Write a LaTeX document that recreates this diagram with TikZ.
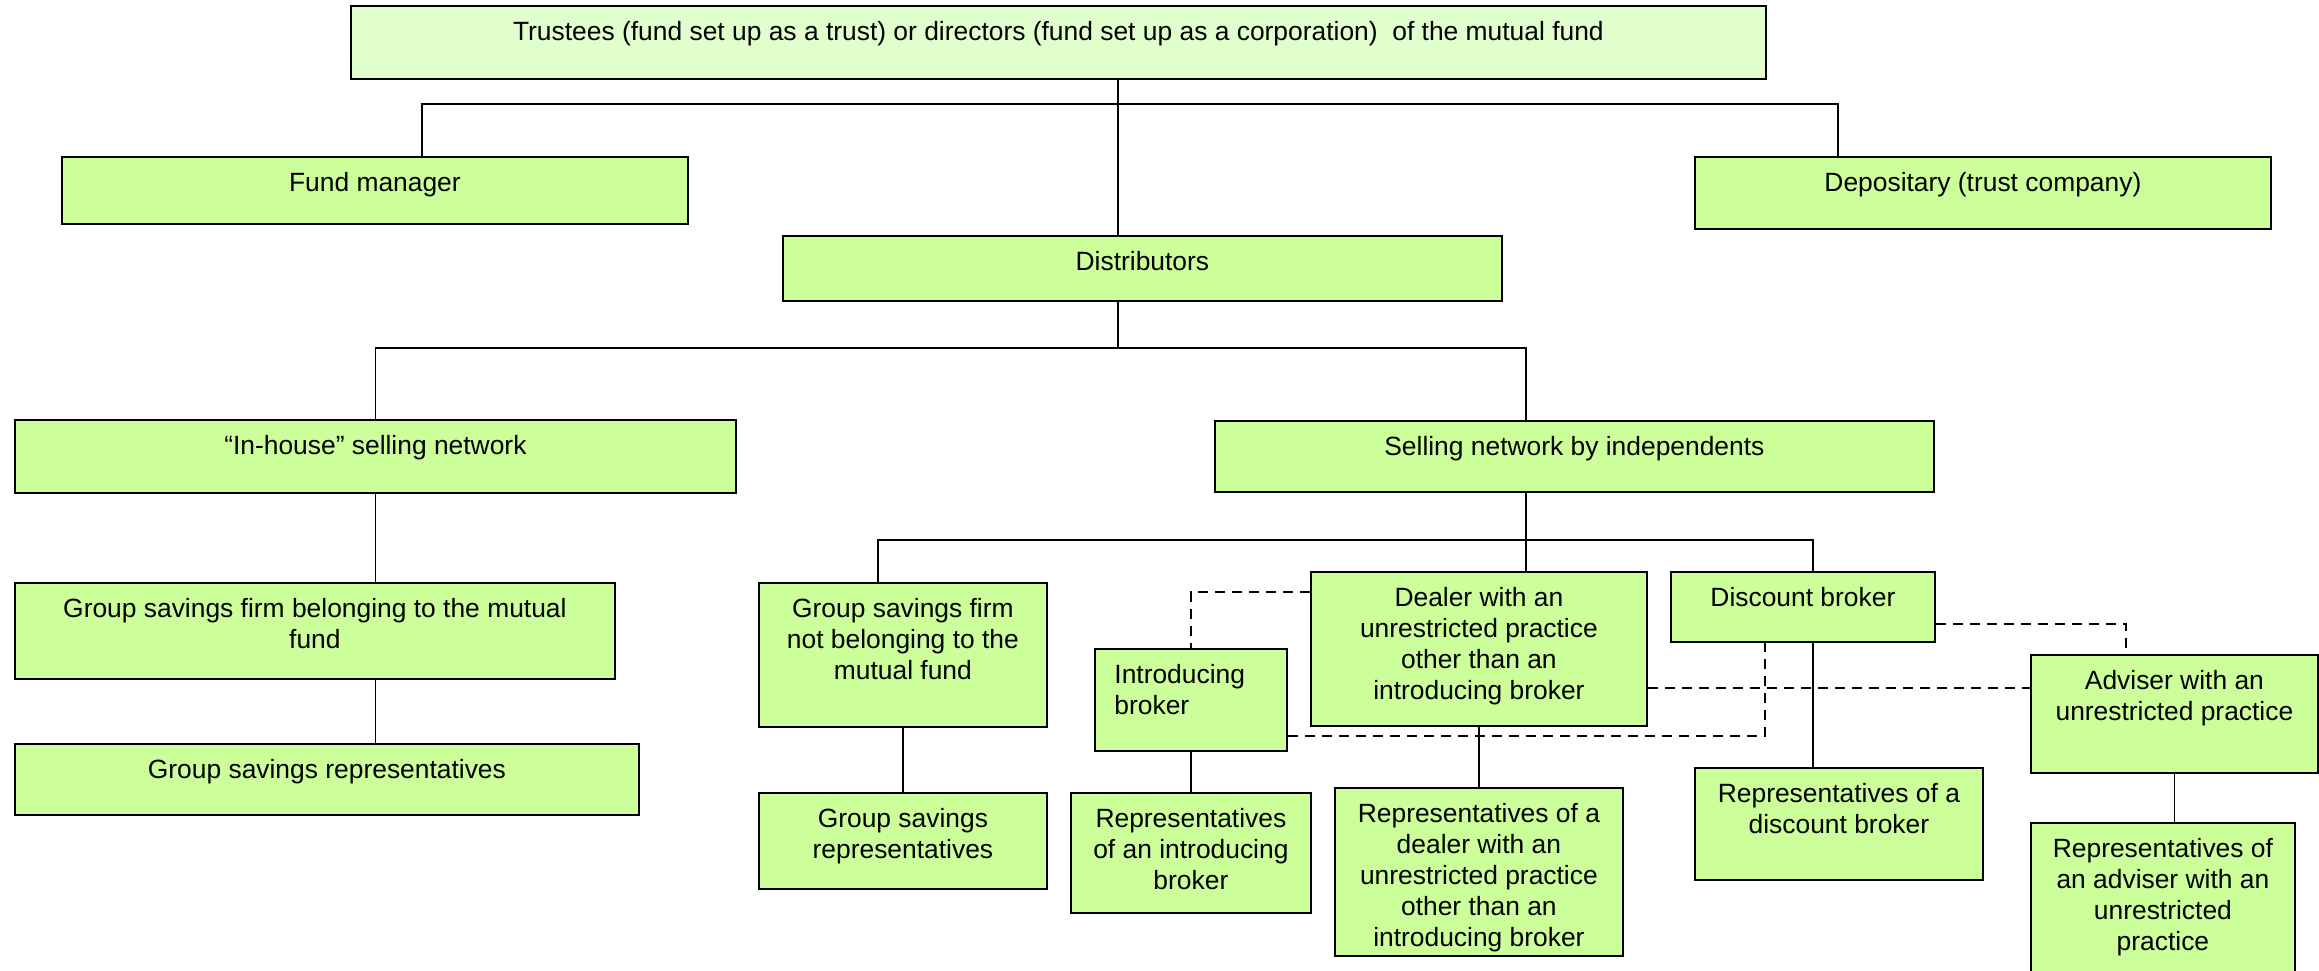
\documentclass[tikz,border=0pt]{standalone}
\usepackage{fontspec}
\setmainfont{Liberation Sans}
\begin{document}
\begin{tikzpicture}[x=0.5pt,y=-0.5pt,
  box/.style={draw=drawColor,fill=fillColor,line width=0.9pt,anchor=north west,inner sep=0pt},
  wh/.style 2 args={minimum width=#1*0.5pt,minimum height=#2*0.5pt},
  lbl/.style={anchor=north,yshift=-8pt,inner sep=0pt,align=center,text=drawColor,
    font=\fontsize{13.2}{15.5}\selectfont},
  link/.style={draw=drawColor,line width=0.75pt},
  dlink/.style={draw=drawColor,line width=0.75pt,dash pattern=on 5pt off 3.5pt}]
\definecolor{drawColor}{RGB}{0,0,0}
\definecolor{fillColor}{RGB}{204,255,153}
\definecolor{topColor}{RGB}{225,255,204}
\path[use as bounding box] (0,0) rectangle (2319,970);

% boxes
\node[box,fill=topColor,wh={1415}{73},label={[lbl]north:{Trustees (fund set up as a trust) or directors (fund set up as a corporation)\ \ of the mutual fund}}] (trustees) at (350,5) {};
\node[box,wh={626}{67},label={[lbl]north:{Fund manager}}] (fm) at (61,156) {};
\node[box,wh={576}{72},label={[lbl]north:{Depositary (trust company)}}] (dep) at (1694,156) {};
\node[box,wh={719}{65},label={[lbl]north:{Distributors}}] (dist) at (782,235) {};
\node[box,wh={721}{73},label={[lbl]north:{“In-house” selling network}}] (inh) at (14,419) {};
\node[box,wh={719}{71},label={[lbl]north:{Selling network by independents}}] (indep) at (1214,420) {};
\node[box,wh={600}{96},label={[lbl]north:{Group savings firm belonging to the mutual\\fund}}] (gsb) at (14,582) {};
\node[box,wh={624}{71},label={[lbl]north:{Group savings representatives}}] (gsr1) at (14,743) {};
\node[box,wh={288}{144},label={[lbl]north:{Group savings firm\\not belonging to the\\mutual fund}}] (gsn) at (758,582) {};
\node[box,wh={192}{102},label={[lbl,anchor=north west,xshift=10pt,align=left]north west:{Introducing\\broker}}] (intro) at (1094,648) {};
\node[box,wh={336}{154},label={[lbl]north:{Dealer with an\\unrestricted practice\\other than an\\introducing broker}}] (dealer) at (1310,571) {};
\node[box,wh={264}{70},label={[lbl]north:{Discount broker}}] (disc) at (1670,571) {};
\node[box,wh={287}{118},label={[lbl]north:{Adviser with an\\unrestricted practice}}] (adv) at (2030,654) {};
\node[box,wh={288}{96},label={[lbl]north:{Group savings\\representatives}}] (gsr2) at (758,792) {};
\node[box,wh={240}{120},label={[lbl]north:{Representatives\\of an introducing\\broker}}] (rintro) at (1070,792) {};
\node[box,wh={288}{168},label={[lbl]north:{Representatives of a\\dealer with an\\unrestricted practice\\other than an\\introducing broker}}] (rdealer) at (1334,787) {};
\node[box,wh={288}{112},label={[lbl]north:{Representatives of a\\discount broker}}] (rdisc) at (1694,767) {};
\node[box,wh={264}{170},label={[lbl]north:{Representatives of\\an adviser with an\\unrestricted\\practice}}] (radv) at (2030,822) {};

% junctions
\coordinate (busA) at (1118,104);
\coordinate (fmX) at (422,104);
\coordinate (depX) at (1838,104);
\coordinate (busB) at (1118,348);
\coordinate (indepX) at (1526,348);
\coordinate (busC) at (1526,540);
\coordinate (gsnX) at (878,540);
\coordinate (discX) at (1813,540);
\coordinate (dA) at (1190,592);
\coordinate (dB) at (1765,736);
\coordinate (dC) at (2030,688);
\coordinate (dD) at (2126,624);

% solid connectors
\path[link] (trustees.south -| busA) -- (dist.north -| busA);
\path[link] (fmX |- fm.north) -- (fmX) -- (depX) -- (depX |- dep.north);
\path[link] (dist.south -| busB) -- (busB);
\path[link] (inh.north) |- (busB) -| (indepX |- indep.north);
\path[link] (inh.south) -- (inh.south |- gsb.north);
\path[link] (inh.south |- gsb.south) -- (inh.south |- gsr1.north);
\path[link] (indep.south -| busC) -- (dealer.north -| busC);
\path[link] (gsnX |- gsn.north) -- (gsnX) -- (discX) -- (discX |- disc.north);
\path[link] (gsn.south) -- (gsr2.north);
\path[link] (intro.south) -- (rintro.north);
\path[link] (dealer.south) -- (rdealer.north);
\path[link] (disc.south -| discX) -- (rdisc.north -| discX);
\path[link] (adv.south) -- (adv.south |- radv.north);

% dashed connectors
\path[dlink] (dealer.west |- dA) -| (intro.north);
\path[dlink] (intro.east |- dB) -| (dB |- disc.south);
\path[dlink] (dealer.east |- dC) -- (adv.west |- dC);
\path[dlink] (disc.east |- dD) -| (dD |- adv.north);
\end{tikzpicture}
\end{document}
